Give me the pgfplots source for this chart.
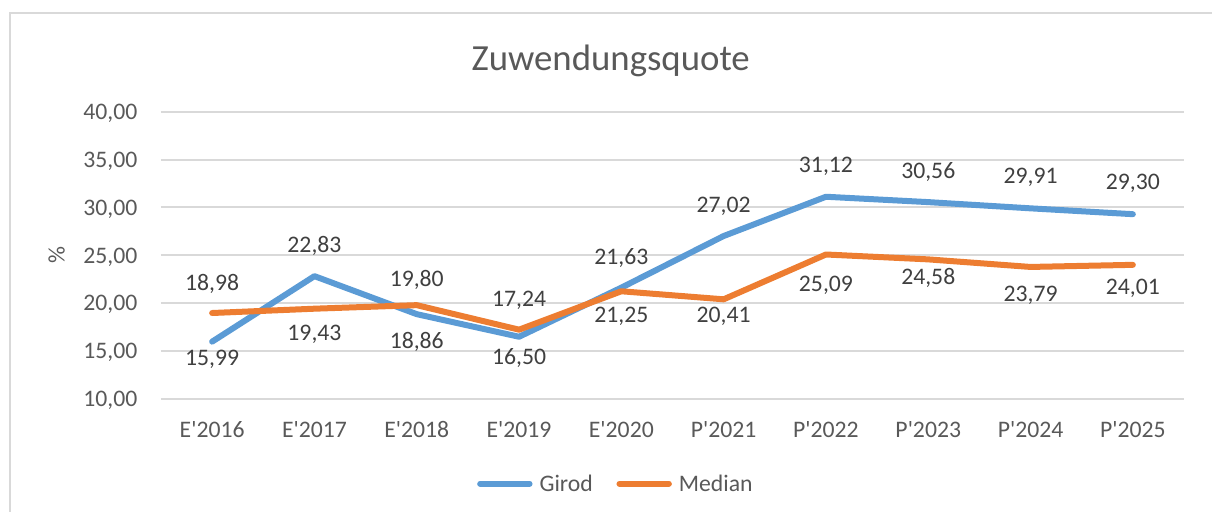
\documentclass[border=0pt]{standalone}
\usepackage{fontspec}
\setmainfont{Carlito}
\usepackage{pgfplots}
\pgfplotsset{compat=1.18}

\definecolor{girod}{HTML}{5B9BD5}
\definecolor{median}{HTML}{ED7D31}
\definecolor{txt}{HTML}{595959}
\definecolor{lbl}{HTML}{404040}
\definecolor{gridc}{HTML}{D9D9D9}

% x = category index, y = value, dy = label offset (pt, + is up)
\pgfplotstableread{
x y dy
0 15.99 -8
1 22.83 15.75
2 18.86 -13
3 16.50 -10
4 21.63 15.75
5 27.02 15.75
6 31.12 15.75
7 30.56 16
8 29.91 16.25
9 29.30 16
}\girodtab
\pgfplotstableread{
x y dy
0 18.98 15.5
1 19.43 -12
2 19.80 13.5
3 17.24 15.5
4 21.25 -12
5 20.41 -7.5
6 25.09 -14.7
7 24.58 -8.5
8 23.79 -13.5
9 24.01 -11
}\mediantab

\newcommand\q{\textquotesingle}
\newcommand\fs{\fontsize{11.85}{14}\selectfont}

\begin{document}
\begin{tikzpicture}
\useasboundingbox (-80.5pt,-56pt) rectangle (525.5pt,199.5pt);
\draw[gridc, line width=1pt] (-75.5pt,-80pt) -- (-75.5pt,193pt) -- (540pt,193pt);
\begin{axis}[
  at={(0pt,0pt)}, anchor=south west,
  scale only axis,
  width=511.5pt, height=143.65pt,
  xmin=-0.5, xmax=9.5,
  ymin=10, ymax=40,
  ytick={10,15,...,40},
  xtick={0,...,9},
  xticklabels={E\q2016,E\q2017,E\q2018,E\q2019,E\q2020,P\q2021,P\q2022,P\q2023,P\q2024,P\q2025},
  axis line style={draw=none},
  major tick length=0pt,
  ymajorgrids,
  grid style={gridc, line width=1pt},
  ticklabel style={font=\fs, text=txt, inner sep=0pt, text depth=0pt},
  yticklabel style={anchor=east, xshift=-11.65pt},
  xticklabel style={anchor=north, yshift=-11.1pt},
  /pgf/number format/fixed,
  /pgf/number format/fixed zerofill,
  /pgf/number format/precision=2,
  /pgf/number format/use comma,
  /pgf/number format/assume math mode=true,
  ylabel={\%},
  ylabel style={at={(axis description cs:0,0.5)}, anchor=center, yshift=52.15pt, font=\fs, text=txt, inner sep=0pt},
  legend style={at={(axis description cs:0.4437,-0.2948)}, anchor=center,
    draw=none, fill=none, legend columns=2, font=\fs, text=txt,
    inner sep=0pt, nodes={inner sep=0pt, text depth=0pt},
    /tikz/every odd column/.append style={column sep=3.5pt},
    /tikz/every even column/.append style={column sep=11.85pt}},
  legend image code/.code={\draw[#1, line cap=round] (0pt,0pt) -- (24.7pt,0pt);},
  nodes near coords,
  every node near coord/.append style={font=\fs, text=lbl, anchor=center, inner sep=0pt, text depth=0pt, yshift=\dy pt},
  visualization depends on={\thisrow{dy}\as\dy},
]
\addplot[girod, line width=3pt, line join=round, line cap=round, no markers] table[x=x, y=y] {\girodtab};
\addplot[median, line width=3pt, line join=round, line cap=round, no markers] table[x=x, y=y] {\mediantab};
\legend{Girod, Median}
\end{axis}
\node[font=\fontsize{18.4}{22}\selectfont, text=txt, anchor=base] at (224.85pt,164.5pt) {Zuwendungsquote};
\end{tikzpicture}
\end{document}
